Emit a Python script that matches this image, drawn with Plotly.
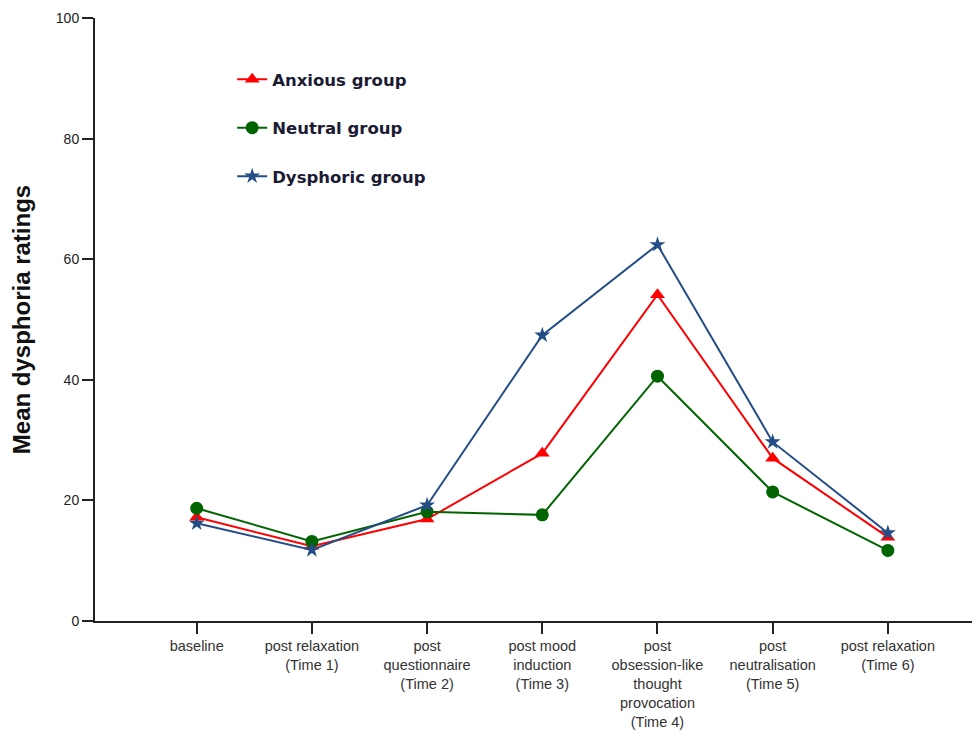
import plotly.graph_objects as go

categories = [
    "baseline",
    "post relaxation<br>(Time 1)",
    "post<br>questionnaire<br>(Time 2)",
    "post mood<br>induction<br>(Time 3)",
    "post<br>obsession-like<br>thought<br>provocation<br>(Time 4)",
    "post<br>neutralisation<br>(Time 5)",
    "post relaxation<br>(Time 6)",
]
anxious = [17.2, 12.4, 16.9, 27.8, 54.1, 27.0, 13.9]
neutral = [18.7, 13.2, 18.1, 17.6, 40.6, 21.4, 11.7]
dysphoric = [16.2, 11.8, 19.2, 47.4, 62.4, 29.7, 14.6]
y_ticks = [0, 20, 40, 60, 80, 100]

fig = go.Figure()
fig.add_trace(go.Scatter(
    x=categories, y=anxious, name="Anxious group", legendgroup="a",
    mode="lines+markers", line=dict(color="#ff0000", width=2),
    marker=dict(symbol="triangle-up", size=13, color="#ff0000"),
))
fig.add_trace(go.Scatter(
    x=categories, y=neutral, name="Neutral group", legendgroup="n",
    mode="lines+markers", line=dict(color="#006400", width=2),
    marker=dict(symbol="circle", size=13, color="#006400"),
))
fig.add_trace(go.Scatter(
    x=categories, y=dysphoric, name="Dysphoric group", legendgroup="d",
    mode="lines+markers", line=dict(color="#244d87", width=2),
    marker=dict(symbol="star", size=12, color="#244d87"),
))

fig.update_layout(
    width=980, height=740,
    margin=dict(l=87, r=8, t=10, b=127),
    paper_bgcolor="white", plot_bgcolor="white",
    font=dict(family="Liberation Sans, Arial, sans-serif", color="#222222"),
    showlegend=True,
    legend=dict(
        x=0.155, y=0.927, xanchor="left", yanchor="top",
        bgcolor="rgba(0,0,0,0)",
        font=dict(family="DejaVu Sans, Verdana, sans-serif", size=16.5,
                  color="#1b1b33", weight="bold"),
        tracegroupgap=24,
        traceorder="grouped",
    ),
    xaxis=dict(
        type="category",
        range=[-0.883, 6.8],
        automargin=False,
        showline=True, linecolor="#222222", linewidth=2,
        ticks="outside", ticklen=11, tickwidth=2, tickcolor="#222222",
        showgrid=False, zeroline=False,
        tickfont=dict(size=14.5, color="#333333"),
    ),
    yaxis=dict(
        range=[0, 100],
        tickvals=y_ticks,
        automargin=False,
        showline=True, linecolor="#222222", linewidth=2,
        ticks="outside", ticklen=11, tickwidth=2, tickcolor="#222222",
        showgrid=False, zeroline=False,
        tickfont=dict(size=14, color="#222222"),
        title=dict(text="<b>Mean dysphoria ratings</b>",
                   font=dict(size=24, color="#111111"), standoff=25),
    ),
)

fig.write_html("out.html")
